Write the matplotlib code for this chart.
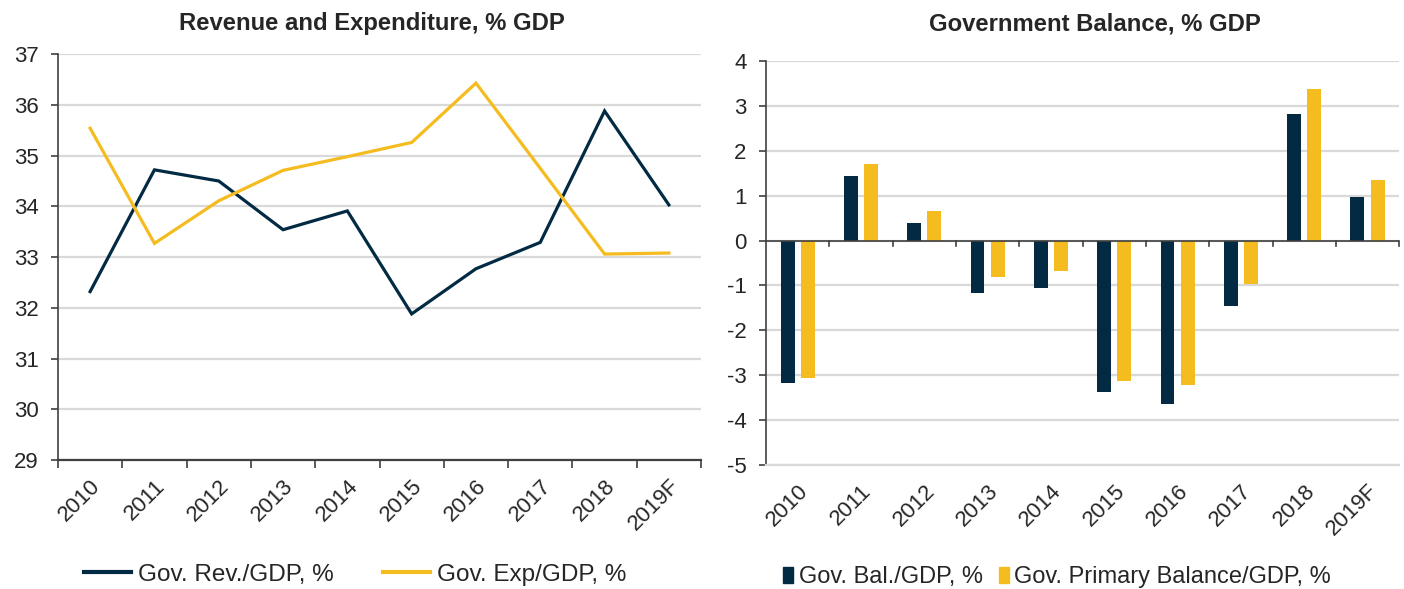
import numpy as np
import matplotlib.pyplot as plt
from matplotlib.lines import Line2D
from matplotlib.patches import Patch

plt.rcParams['font.family'] = ['Liberation Sans', 'DejaVu Sans']
plt.rcParams['axes.unicode_minus'] = False

years = ['2010', '2011', '2012', '2013', '2014', '2015', '2016', '2017', '2018', '2019F']
rev_gdp = [32.32, 34.72, 34.50, 33.54, 33.91, 31.88, 32.77, 33.29, 35.88, 34.03]
exp_gdp = [35.54, 33.27, 34.11, 34.71, 34.98, 35.26, 36.43, 34.75, 33.06, 33.08]
bal_gdp = [-3.18, 1.43, 0.39, -1.16, -1.06, -3.37, -3.65, -1.46, 2.81, 0.96]
prim_gdp = [-3.07, 1.71, 0.65, -0.82, -0.67, -3.13, -3.21, -0.96, 3.38, 1.35]

NAVY = '#022a43'
GOLD = '#f4bc1f'
GRID = '#d9d9d9'
AX = '#404040'
TXT = '#262626'

fig = plt.figure(figsize=(14.04, 5.89), dpi=100)
x = np.arange(len(years))

# ---- left: revenue / expenditure lines
ax1 = fig.add_axes([0.0413, 0.219, 0.458, 0.689])
ax1.plot(x, rev_gdp, color=NAVY, lw=2.3, solid_joinstyle='miter')
ax1.plot(x, exp_gdp, color=GOLD, lw=2.3, solid_joinstyle='miter')
ax1.set_xlim(-0.5, len(years) - 0.5)
ax1.set_ylim(29, 37)
ax1.set_yticks(range(29, 38))
fig.text(0.265, 0.96, 'Revenue and Expenditure, % GDP', ha='center', va='center',
         fontsize=17.2, fontweight='bold', color=TXT)

# ---- right: balance bars
ax2 = fig.add_axes([0.5456, 0.2105, 0.451, 0.686])
w = 0.22
ax2.bar(x - 0.16, bal_gdp, width=w, color=NAVY, zorder=3)
ax2.bar(x + 0.16, prim_gdp, width=w, color=GOLD, zorder=3)
ax2.set_xlim(-0.5, len(years) - 0.5)
ax2.set_ylim(-5, 4)
ax2.set_yticks(range(-5, 5))
ax2.axhline(0, color=AX, lw=1.2, zorder=4)
# boundary tick marks on zero line
for b in np.arange(0.5, len(years), 1.0):
    ax2.plot([b, b], [0, -0.12], color=AX, lw=1.2, zorder=4, clip_on=False)
fig.text(0.78, 0.96, 'Government Balance, % GDP', ha='center', va='center',
         fontsize=17.2, fontweight='bold', color=TXT)

for ax in (ax1, ax2):
    ax.set_xticks(x)
    ax.set_xticklabels(years, rotation=45, ha='right', rotation_mode='anchor', fontsize=16, color=TXT)
    ax.tick_params(axis='x', length=0, pad=11)
    ax.tick_params(axis='y', labelsize=16, labelcolor=TXT, length=5, color=AX, width=1.2, pad=9)
    ax.grid(axis='y', color=GRID, lw=1.6, zorder=0)
    ax.set_axisbelow(True)
    for s in ('top', 'right'):
        ax.spines[s].set_visible(False)
    ax.spines['left'].set_color(AX)
    ax.spines['left'].set_linewidth(1.2)

ax1.spines['bottom'].set_color(AX)
ax1.spines['bottom'].set_linewidth(1.6)
ax1.set_xticks(np.arange(-0.5, len(years), 1.0), minor=True)
ax1.tick_params(axis='x', which='minor', length=6, color=AX, width=1.2)
ax2.spines['bottom'].set_color(GRID)
ax2.spines['bottom'].set_linewidth(1.6)

# legends
h1 = [Line2D([0], [0], color=NAVY, lw=3), Line2D([0], [0], color=GOLD, lw=3)]
fig.legend(h1, ['Gov. Rev./GDP, %', 'Gov. Exp/GDP, %'], loc='center', bbox_to_anchor=(0.253, 0.024),
           ncol=2, frameon=False, fontsize=17.5, labelcolor=TXT, handlelength=1.95, handletextpad=0.3,
           columnspacing=2.0)
h2 = [Patch(color=NAVY), Patch(color=GOLD)]
fig.legend(h2, ['Gov. Bal./GDP, %', 'Gov. Primary Balance/GDP, %'], loc='center', bbox_to_anchor=(0.753, 0.02),
           ncol=2, frameon=False, fontsize=17, labelcolor=TXT, handlelength=0.42, handleheight=0.72,
           handletextpad=0.22, columnspacing=0.7)

fig.savefig('out.png', dpi=100)
